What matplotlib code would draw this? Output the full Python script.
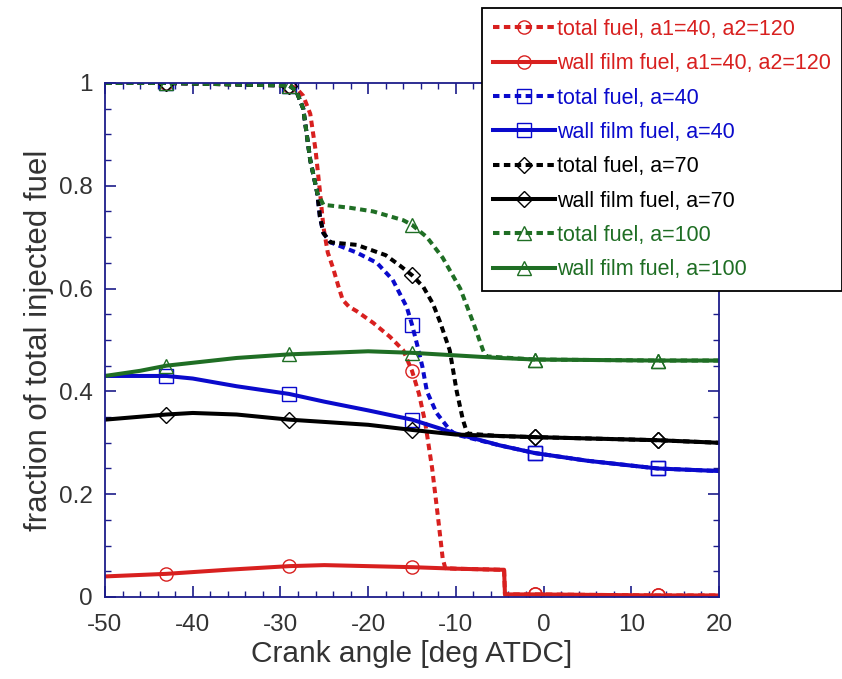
import numpy as np
import matplotlib.pyplot as plt
from matplotlib.ticker import MultipleLocator

plt.rcParams['font.family'] = ['Liberation Sans', 'DejaVu Sans']
plt.rcParams['axes.unicode_minus'] = False

# marker positions (crank angle)
mark_x = [-43, -29, -15, -1, 13]

# red: a1=40, a2=120
red_tot_x = [-50, -43, -29, -28.2, -27.4, -26.6, -26.0, -25.5, -25.1, -24.6, -24.0, -23.4, -22.9, -22.2,
             -21.3, -19.4, -17.5, -16, -15, -14.2, -13.5, -12.7, -12.0, -11.5, -11.2, -10, -5, -4.5, -4.4,
             -1, 13, 20]
red_tot_y = [1.0, 1.0, 0.995, 0.99, 0.975, 0.94, 0.87, 0.79, 0.72, 0.67, 0.64, 0.605, 0.578, 0.565,
             0.556, 0.533, 0.506, 0.48, 0.44, 0.395, 0.34, 0.25, 0.15, 0.075, 0.056, 0.055, 0.053, 0.053, 0.005,
             0.005, 0.003, 0.003]
red_wall_x = [-50, -43, -36, -29, -25, -20, -15, -10, -5, -4.5, -4.4, -1, 13, 20]
red_wall_y = [0.04, 0.045, 0.053, 0.06, 0.062, 0.06, 0.058, 0.055, 0.053, 0.053, 0.005, 0.005, 0.003, 0.003]

# blue: a=40
blue_tot_x = [-50, -43, -29, -28.2, -27.4, -26.6, -25.8, -25.5, -25.1, -24.3, -21.3, -19, -17.2, -15.6,
              -15, -14.4, -13.8, -13.3, -12.2, -10.7, -10, -5, -1, 5, 13, 20]
blue_tot_y = [1.0, 1.0, 0.995, 0.985, 0.95, 0.85, 0.786, 0.74, 0.708, 0.69, 0.67, 0.65, 0.617, 0.564,
              0.53, 0.49, 0.447, 0.40, 0.358, 0.325, 0.316, 0.295, 0.28, 0.265, 0.25, 0.245]
blue_wall_x = [-50, -43, -40, -35, -29, -25, -20, -15, -10, -5, -1, 5, 13, 20]
blue_wall_y = [0.43, 0.43, 0.425, 0.41, 0.395, 0.38, 0.363, 0.345, 0.318, 0.295, 0.28, 0.265, 0.25, 0.245]

# black: a=70
blk_tot_x = [-50, -43, -29, -28.2, -27.4, -26.6, -25.8, -25.5, -25.1, -24.3, -21.3, -18, -16.4, -15,
             -13.7, -12.6, -11.8, -10.7, -9.9, -9.2, -8.7, -5, -1, 13, 20]
blk_tot_y = [1.0, 1.0, 0.995, 0.985, 0.95, 0.85, 0.786, 0.74, 0.708, 0.69, 0.685, 0.665, 0.645, 0.626,
             0.603, 0.57, 0.535, 0.48, 0.40, 0.345, 0.318, 0.313, 0.311, 0.305, 0.30]
blk_wall_x = [-50, -43, -40, -35, -29, -20, -15, -10, -1, 13, 20]
blk_wall_y = [0.345, 0.355, 0.358, 0.355, 0.345, 0.335, 0.325, 0.316, 0.311, 0.305, 0.30]

# green: a=100
grn_tot_x = [-50, -43, -29, -28.2, -27.4, -26.6, -25.8, -25.3, -25.1, -22, -19.4, -16, -15, -13.3,
             -11.5, -9.5, -8.0, -6.9, -6.5, -1, 13, 20]
grn_tot_y = [1.0, 1.0, 0.995, 0.985, 0.95, 0.85, 0.786, 0.77, 0.763, 0.757, 0.75, 0.733, 0.724, 0.70,
             0.66, 0.60, 0.533, 0.48, 0.468, 0.462, 0.46, 0.46]
grn_wall_x = [-50, -46, -43, -35, -29, -20, -15, -10, -5, -1, 13, 20]
grn_wall_y = [0.43, 0.44, 0.45, 0.465, 0.472, 0.478, 0.475, 0.47, 0.465, 0.462, 0.46, 0.46]

RED = '#d8201f'
BLUE = '#0a0acc'
BLACK = '#000000'
GREEN = '#1f6e24'
AX = '#1c1c8a'

series = [
    (red_tot_x, red_tot_y, RED, '--', 'o', 'total fuel, a1=40, a2=120'),
    (red_wall_x, red_wall_y, RED, '-', 'o', 'wall film fuel, a1=40, a2=120'),
    (blue_tot_x, blue_tot_y, BLUE, '--', 's', 'total fuel, a=40'),
    (blue_wall_x, blue_wall_y, BLUE, '-', 's', 'wall film fuel, a=40'),
    (blk_tot_x, blk_tot_y, BLACK, '--', 'D', 'total fuel, a=70'),
    (blk_wall_x, blk_wall_y, BLACK, '-', 'D', 'wall film fuel, a=70'),
    (grn_tot_x, grn_tot_y, GREEN, '--', '^', 'total fuel, a=100'),
    (grn_wall_x, grn_wall_y, GREEN, '-', '^', 'wall film fuel, a=100'),
]

fig = plt.figure(figsize=(8.42, 6.79), dpi=100)
ax = fig.add_axes([0.1247, 0.1208, 0.7292, 0.757])

for x, y, c, ls, m, lab in series:
    x = np.array(x)
    idx = list(np.where(np.isin(x, mark_x))[0])
    ms = 8.5 if m == 'D' else 9.5
    line, = ax.plot(x, y, color=c, ls=ls, lw=2.9, marker=m, ms=ms, mfc='none', mec=c,
                    mew=1.0, markevery=idx, label=lab)
    if ls == '--':
        line.set_dashes((1.6, 1.1))

ax.set_xlim(-50, 20)
ax.set_ylim(0, 1)
ax.xaxis.set_major_locator(MultipleLocator(10))
ax.xaxis.set_minor_locator(MultipleLocator(2))
ax.yaxis.set_minor_locator(MultipleLocator(0.05))
ax.set_yticks([0, 0.2, 0.4, 0.6, 0.8, 1.0])
ax.set_yticklabels(['0', '0.2', '0.4', '0.6', '0.8', '1'])

for sp in ax.spines.values():
    sp.set_color(AX)
    sp.set_linewidth(1.3)
ax.tick_params(which='both', direction='in', top=True, right=True, color=AX,
               labelsize=17.5, labelcolor='#333333')
ax.tick_params(axis='x', which='major', pad=12)
ax.tick_params(axis='y', which='major', pad=9)
ax.tick_params(which='major', length=8, width=1.2)
ax.tick_params(which='minor', length=4, width=1.0)

ax.set_xlabel('Crank angle [deg ATDC]', fontsize=21.5, color='#333333', labelpad=3)
ax.set_ylabel('fraction of total injected fuel', fontsize=22.5, color='#333333', labelpad=3)

leg = fig.legend(loc='upper left', bbox_to_anchor=(0.5724, 0.988), fontsize=15.5,
                 handlelength=2.9, handletextpad=0.1, labelspacing=0.62, borderpad=0.5,
                 borderaxespad=0, fancybox=False, framealpha=1, edgecolor='black')
leg.get_frame().set_linewidth(1.3)
for t, s in zip(leg.get_texts(), series):
    t.set_color(s[2])

fig.savefig('out.png', dpi=100)
